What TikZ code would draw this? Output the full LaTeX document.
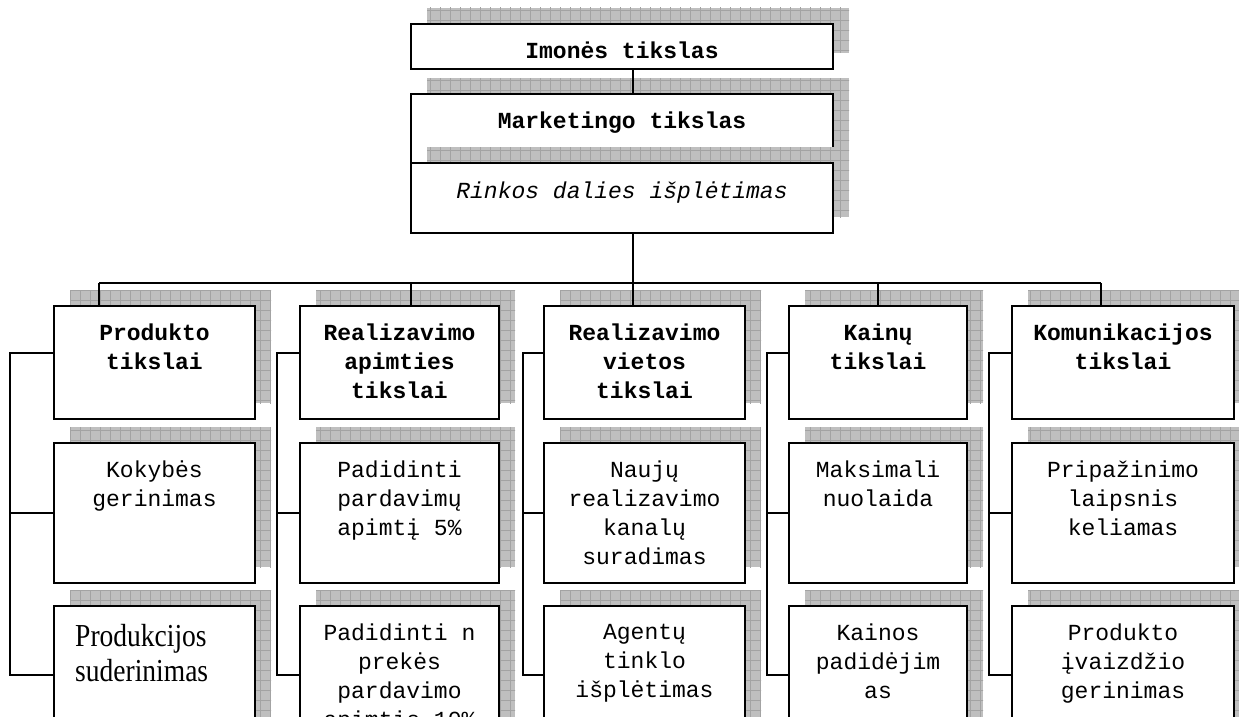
\documentclass[tikz,border=0pt]{standalone}
\usepackage{fontspec}
\setmonofont{Liberation Mono}
\newfontfamily\condserif[FakeStretch=0.86]{Liberation Serif}

\pgfdeclarelayer{shade}
\pgfdeclarelayer{wiring}
\pgfsetlayers{shade,wiring,main}

\tikzset{
  box/.style={draw, line width=1.8pt, fill=white, inner sep=0pt},
  wire/.style={line width=1.5pt},
  lbl/.style={anchor=north, inner sep=0pt, align=center,
    font=\ttfamily\fontsize{23}{29}\selectfont},
  hlbl/.style={lbl, font=\ttfamily\bfseries\fontsize{23}{29}\selectfont},
  ilbl/.style={lbl, font=\ttfamily\itshape\fontsize{23}{29}\selectfont},
}

% hatched drop shadow, offset up and to the right: left, top, right, bottom
\newcommand\dropshade[4]{%
  \begin{scope}
    \clip (#1+16,#2-16) rectangle (#3+16,#4-16);
    \fill[gray!50] (#1+16,#2-16) rectangle (#3+16,#4-16);
    \draw[gray!72, line width=0.7pt, step=10pt] (#1+6,#2-26) grid (#3+26,#4-6);
  \end{scope}}
% white framed panel: name, left, top, right, bottom
\newcommand\panel[5]{%
  \node[box, minimum width={(#4-#2)*1pt}, minimum height={(#5-#3)*1pt}]
    (#1) at ({(#2+#4)/2},{(#3+#5)/2}) {};}

\begin{document}
\begin{tikzpicture}[x=1pt,y=-1pt]
\useasboundingbox (0,0) rectangle (1239,717);
\clip (0,0) rectangle (1239,717);

% ---- shadows ----
\begin{pgfonlayer}{shade}
  \dropshade{411}{24}{833}{69}
  \dropshade{411}{94}{833}{163}
  \foreach \l/\r in {54/255, 300/499, 544/745, 789/967, 1012/1234} {
    \dropshade{\l}{306}{\r}{419}
    \dropshade{\l}{443}{\r}{583}
    \dropshade{\l}{606}{\r}{744}
  }
\end{pgfonlayer}

% ---- top boxes ----
\panel{firm}{411}{24}{833}{69}
\panel{mkt}{411}{94}{833}{163}
\dropshade{411}{163}{833}{233}
\panel{share}{411}{163}{833}{233}
\node[hlbl] (firmt) at (622,42) {Imonės tikslas};
\node[hlbl] (mktt) at (622,112) {Marketingo tikslas};
\node[ilbl] (sharet) at (622,182) {Rinkos dalies išplėtimas};

% ---- column boxes ----
\panel{h1}{54}{306}{255}{419}
\panel{m1}{54}{443}{255}{583}
\panel{r1}{54}{606}{255}{744}
\panel{h2}{300}{306}{499}{419}
\panel{m2}{300}{443}{499}{583}
\panel{r2}{300}{606}{499}{744}
\panel{h3}{544}{306}{745}{419}
\panel{m3}{544}{443}{745}{583}
\panel{r3}{544}{606}{745}{744}
\panel{h4}{789}{306}{967}{419}
\panel{m4}{789}{443}{967}{583}
\panel{r4}{789}{606}{967}{744}
\panel{h5}{1012}{306}{1234}{419}
\panel{m5}{1012}{443}{1234}{583}
\panel{r5}{1012}{606}{1234}{744}

% ---- column texts ----
\node[hlbl] (h1t) at (154.5,324) {Produkto\\tikslai};
\node[lbl]  (m1t) at (154.5,461) {Kokybės\\gerinimas};
\node[anchor=north west, inner sep=0pt, align=left,
      font=\condserif\fontsize{32}{35}\selectfont] (r1t) at (75,624)
      {Produkcijos\\suderinimas};

\node[hlbl] (h2t) at (399.5,324) {Realizavimo\\apimties\\tikslai};
\node[lbl]  (m2t) at (399.5,461) {Padidinti\\pardavimų\\apimtį 5\%};
\node[lbl]  (r2t) at (399.5,624) {Padidinti n\\prekės\\pardavimo\\apimtis 10\%};

\node[hlbl] (h3t) at (644.5,324) {Realizavimo\\vietos\\tikslai};
\node[lbl]  (m3t) at (644.5,461) {Naujų\\realizavimo\\kanalų\\suradimas};
\node[lbl]  (r3t) at (644.5,624) {Agentų\\tinklo\\išplėtimas};

\node[hlbl] (h4t) at (878,324) {Kainų\\tikslai};
\node[lbl]  (m4t) at (878,461) {Maksimali\\nuolaida};
\node[lbl]  (r4t) at (878,624) {Kainos\\padidėjim\\as};

\node[hlbl] (h5t) at (1123,324) {Komunikacijos\\tikslai};
\node[lbl]  (m5t) at (1123,461) {Pripažinimo\\laipsnis\\keliamas};
\node[lbl]  (r5t) at (1123,624) {Produkto\\įvaizdžio\\gerinimas};

% ---- connectors ----
\coordinate (spine) at (633,283);
\coordinate (d1) at (99,283);
\coordinate (d2) at (411,283);
\coordinate (d3) at (633,283);
\coordinate (d4) at (878,283);
\coordinate (d5) at (1101,283);
\coordinate (k1) at (10,353);
\coordinate (k2) at (277,353);
\coordinate (k3) at (523,353);
\coordinate (k4) at (767,353);
\coordinate (k5) at (989,353);

\begin{pgfonlayer}{wiring}
  \draw[wire] (firm.south -| spine) -- (mkt.north -| spine);
  \draw[wire] (share.south -| spine) -- (spine);
  \draw[wire] (d1) -- (d5);
  \foreach \c in {1,...,5} {
    \draw[wire] (d\c) -- (h\c.north -| d\c);
    \draw[wire] (h\c.west |- k\c) -- (k\c) |- (r\c.west);
    \draw[wire] (k\c |- m\c.west) -- (m\c.west);
  }
\end{pgfonlayer}
\end{tikzpicture}
\end{document}
